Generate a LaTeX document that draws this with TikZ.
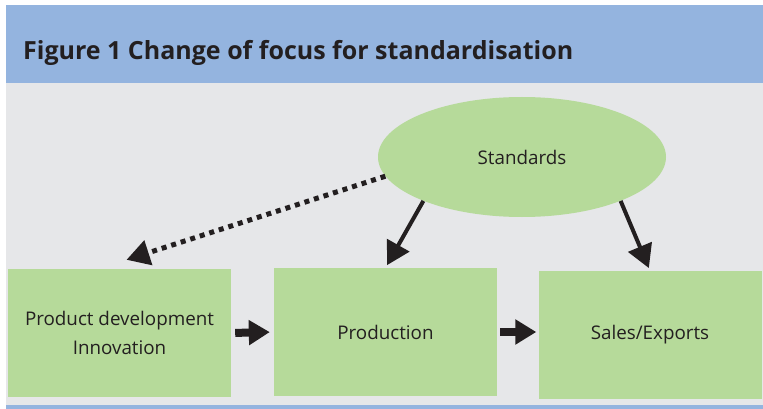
\documentclass[tikz,border=0pt]{standalone}
\usepackage{fontspec}
\setmainfont{Open Sans}
\usetikzlibrary{shapes,arrows.meta,positioning}
\usepackage{xcolor}
\definecolor{headerblue}{RGB}{148,180,223}
\definecolor{panelgrey}{RGB}{230,231,233}
\definecolor{boxgreen}{RGB}{182,218,154}
\definecolor{inkgrey}{RGB}{35,31,32}
\tikzset{
    stagebox/.style={
        rectangle,
        fill=boxgreen,
        minimum width=223pt,
        minimum height=128pt,
        inner sep=0pt,
        align=center,
        text=inkgrey,
        font=\fontsize{18.8}{28.3}\selectfont
    },
    stdnode/.style={
        ellipse,
        fill=boxgreen,
        minimum width=288pt,
        minimum height=120pt,
        inner sep=0pt,
        text=inkgrey,
        font=\fontsize{18.8}{22}\selectfont
    },
    bigarrow/.style={
        -{Triangle[length=23pt,width=25pt]},
        line width=4pt,
        inkgrey
    },
    dotarrow/.style={
        bigarrow,
        line width=5pt,
        dash pattern=on 5pt off 5pt
    },
    steparrow/.style={
        -{Triangle[length=21pt,width=24pt]},
        line width=8pt,
        inkgrey
    }
}

\begin{document}
\begin{tikzpicture}[x=1pt,y=-1pt]
    \useasboundingbox (0,0) rectangle (763,409);

    % Header band and panel
    \fill[headerblue] (6,5) rectangle (763,83);
    \fill[panelgrey] (6,83) rectangle (763,405);
    \fill[headerblue] (6,405) rectangle (763,409);
    \node[anchor=base west, inner sep=0pt, text=inkgrey, font=\fontsize{25}{30}\selectfont\bfseries] (title) at (23,60) {Figure 1 Change of focus for standardisation};

    % Standards on top
    \node[stdnode] (std) at (522,157) {Standards};

    % The three stages
    \node[stagebox] (dev) at (119.5,333) {Product development\\Innovation};
    \node[stagebox] (prod) at (385.5,332) {Production};
    \node[stagebox] (sales) at (650,335) {Sales/Exports};

    % Standards feeding the stages
    \draw[dotarrow] (std.188) -- ([xshift=7pt,yshift=9pt]dev.north);
    \draw[bigarrow, shorten >=3pt] (std.204) -- (prod.north);
    \draw[bigarrow, shorten >=3pt] (std.336) -- (sales.north);

    % Flow between the stages
    \draw[steparrow, shorten <=4pt, shorten >=4pt] (dev.east) -- (prod.west);
    \draw[steparrow, shorten <=3pt, shorten >=2pt] (prod.east) -- (prod.east -| sales.west);
\end{tikzpicture}
\end{document}
